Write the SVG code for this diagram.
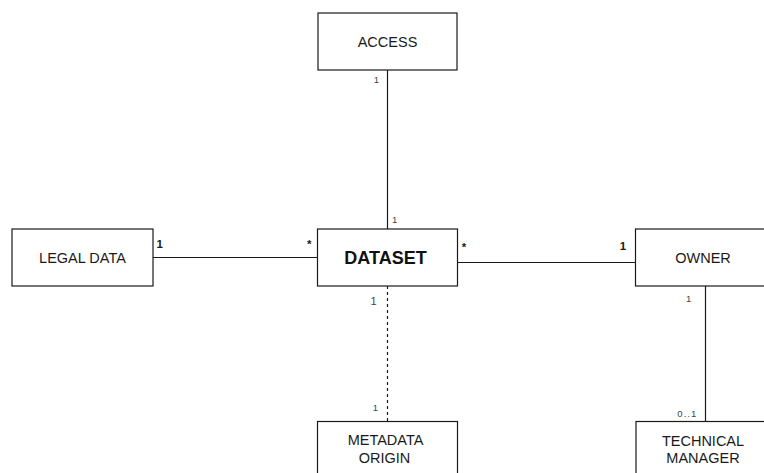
<svg xmlns="http://www.w3.org/2000/svg" width="764" height="473" viewBox="0 0 764 473">
  <style>
    .box { fill: #ffffff; stroke: #1a1a1a; stroke-width: 1.2; }
    .name { font-family: "Liberation Sans", Arial, sans-serif; font-size: 14.5px; fill: #1a1a1a; text-anchor: middle; }
    .main { font-family: "Liberation Sans", Arial, sans-serif; font-size: 18px; font-weight: bold; fill: #111111; text-anchor: middle; }
    .link { stroke: #1a1a1a; stroke-width: 1.2; fill: none; }
    .dash { stroke-dasharray: 3 3; }
    .mult { font-family: "Liberation Sans", Arial, sans-serif; font-size: 9.5px; fill: #444444; text-anchor: middle; }
    .multb { font-family: "Liberation Sans", Arial, sans-serif; font-size: 11.5px; font-weight: bold; fill: #1a1a1a; text-anchor: middle; }
  </style>
  <rect width="764" height="473" fill="#ffffff"/>

  <g id="connectors">
    <line class="link" x1="387.5" y1="70" x2="387.5" y2="229"/>
    <line class="link" x1="153" y1="257.5" x2="317" y2="257.5"/>
    <line class="link" x1="457" y1="262.5" x2="635" y2="262.5"/>
    <line class="link dash" x1="387.5" y1="286" x2="387.5" y2="421"/>
    <line class="link" x1="705.5" y1="286" x2="705.5" y2="421"/>

    <text class="mult" x="376.5" y="83">1</text>
    <text class="mult" x="394.7" y="222.5">1</text>
    <text class="multb" x="159.8" y="248">1</text>
    <text class="multb" x="309.2" y="248">*</text>
    <text class="multb" x="464" y="251">*</text>
    <text class="multb" x="623" y="249.5">1</text>
    <text class="mult" x="373.5" y="305" style="font-size:11px">1</text>
    <text class="mult" x="688.7" y="302">1</text>
    <text class="mult" x="375.3" y="410.5">1</text>
    <text class="mult" x="687.3" y="416.5" style="letter-spacing:1px">0..1</text>
  </g>

  <g id="access">
    <rect class="box" x="318" y="13" width="139" height="57"/>
    <text class="name" x="387.5" y="46.5">ACCESS</text>
  </g>

  <g id="legal-data">
    <rect class="box" x="12" y="229" width="141" height="57"/>
    <text class="name" x="82.5" y="262.5">LEGAL DATA</text>
  </g>

  <g id="dataset">
    <rect class="box" x="317.5" y="229" width="140" height="57"/>
    <text class="main" x="385.5" y="263.5">DATASET</text>
  </g>

  <g id="owner">
    <rect class="box" x="635.5" y="229" width="140" height="57"/>
    <text class="name" x="703" y="262.5">OWNER</text>
  </g>

  <g id="metadata-origin">
    <rect class="box" x="317.5" y="421.5" width="140" height="57"/>
    <text class="name" x="385.5" y="445">METADATA</text>
    <text class="name" x="384.5" y="462.5">ORIGIN</text>
  </g>

  <g id="technical-manager">
    <rect class="box" x="636" y="421.5" width="140" height="57"/>
    <text class="name" x="703" y="446">TECHNICAL</text>
    <text class="name" x="703" y="463">MANAGER</text>
  </g>
</svg>
